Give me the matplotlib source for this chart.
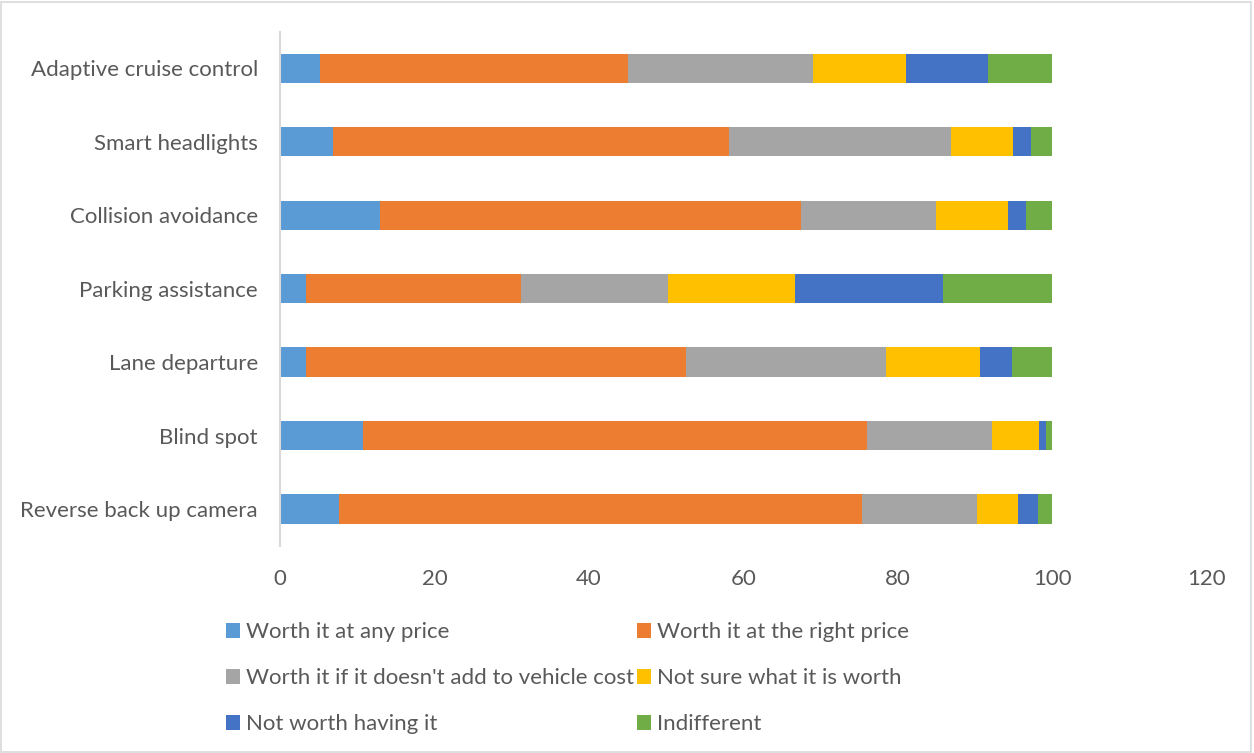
import matplotlib
matplotlib.use("Agg")
import matplotlib.pyplot as plt
from matplotlib.patches import Rectangle

plt.rcParams['font.family'] = ['Lato', 'DejaVu Sans']

features = ['Reverse back up camera', 'Blind spot', 'Lane departure',
            'Parking assistance', 'Collision avoidance', 'Smart headlights',
            'Adaptive cruise control']

# percent of respondents per answer, same order as features
any_price = [7.6, 10.8, 3.4, 3.4, 12.9, 6.8, 5.2]
right_price = [67.7, 65.2, 49.2, 27.8, 54.6, 51.4, 39.8]
no_added_cost = [15.0, 16.2, 25.9, 19.1, 17.4, 28.7, 24.0]
not_sure = [5.3, 6.1, 12.1, 16.4, 9.4, 8.0, 12.1]
not_worth = [2.6, 0.9, 4.2, 19.2, 2.3, 2.4, 10.6]
indifferent = [1.8, 0.8, 5.2, 14.1, 3.4, 2.7, 8.3]

series = [
    ('Worth it at any price', any_price, '#5B9BD5'),
    ('Worth it at the right price', right_price, '#ED7D31'),
    ("Worth it if it doesn't add to vehicle cost", no_added_cost, '#A5A5A5'),
    ('Not sure what it is worth', not_sure, '#FFC000'),
    ('Not worth having it', not_worth, '#4472C4'),
    ('Indifferent', indifferent, '#70AD47'),
]

txt = '#595959'
fs = 16
fig = plt.figure(figsize=(12.54, 7.53), dpi=100)
ax = fig.add_axes([0.2233, 0.2753, 0.739, 0.6827])

left = [0.0] * len(features)
handles = []
for name, vals, col in series:
    b = ax.barh(features, vals, left=left, height=0.4, color=col, label=name)
    handles.append(b)
    left = [l + v for l, v in zip(left, vals)]

ax.set_xlim(0, 120)
ax.set_ylim(-0.5, len(features) - 0.5)
ax.set_xticks(range(0, 121, 20))
for s in ['top', 'right', 'bottom']:
    ax.spines[s].set_visible(False)
ax.spines['left'].set_color('#D9D9D9')
ax.spines['left'].set_linewidth(1.5)
ax.tick_params(axis='x', length=0, pad=17, labelsize=fs, labelcolor=txt)
ax.tick_params(axis='y', length=0, pad=16, labelsize=fs, labelcolor=txt)

# legend is filled column by column, so reorder to read across rows
order = [0, 2, 4, 1, 3, 5]
leg = fig.legend([handles[i] for i in order], [series[i][0] for i in order],
                 ncol=2, loc='upper left', bbox_to_anchor=(0.1802, 0.1734),
                 frameon=False, fontsize=fs, handlelength=0.63,
                 handleheight=0.63, handletextpad=0.26, labelspacing=1.17,
                 columnspacing=0.14, borderpad=0, borderaxespad=0)
for t in leg.get_texts():
    t.set_color(txt)

fig.patches.append(Rectangle((0.001, 0.001), 0.997, 0.997, transform=fig.transFigure,
                             fill=False, edgecolor='#D9D9D9', linewidth=1.2))

fig.savefig('out.png', dpi=100)
